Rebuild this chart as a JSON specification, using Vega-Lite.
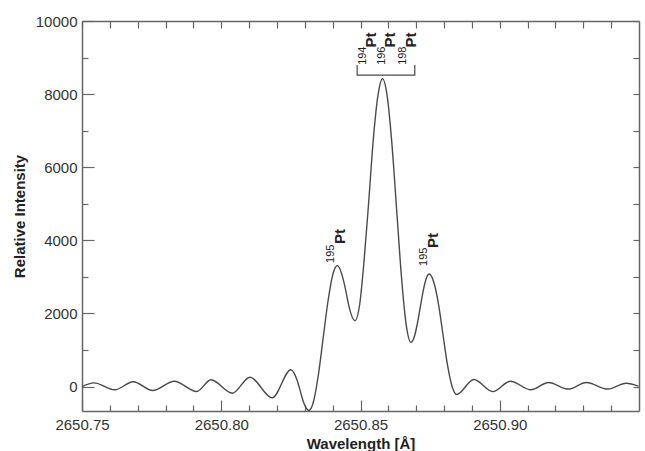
{
  "$schema": "https://vega.github.io/schema/vega-lite/v6.json",
  "width": 557,
  "height": 390,
  "autosize": "none",
  "padding": {"left": 82, "top": 21, "right": 6, "bottom": 40},
  "background": "white",
  "config": {
    "view": {"stroke": null},
    "axis": {
      "grid": false,
      "domainColor": "#666666",
      "domainWidth": 1.5,
      "tickColor": "#666666",
      "tickWidth": 1.2,
      "labelFont": "Liberation Sans",
      "titleFont": "Liberation Sans",
      "labelColor": "#333333",
      "titleColor": "#222222",
      "labelFontSize": 15,
      "titleFontSize": 15,
      "titleFontWeight": "bold"
    }
  },
  "datasets": {
    "curve": [
      {"lam": 2650.7500, "val": -5},
      {"lam": 2650.7543, "val": 100},
      {"lam": 2650.7618, "val": -90},
      {"lam": 2650.7684, "val": 130},
      {"lam": 2650.7754, "val": -110},
      {"lam": 2650.7831, "val": 145},
      {"lam": 2650.7912, "val": -137},
      {"lam": 2650.7963, "val": 183},
      {"lam": 2650.8040, "val": -183},
      {"lam": 2650.8103, "val": 255},
      {"lam": 2650.8183, "val": -310},
      {"lam": 2650.8250, "val": 457},
      {"lam": 2650.8272, "val": 179},
      {"lam": 2650.8283, "val": -99},
      {"lam": 2650.8293, "val": -377},
      {"lam": 2650.8315, "val": -655},
      {"lam": 2650.8332, "val": -389},
      {"lam": 2650.8349, "val": 336},
      {"lam": 2650.8366, "val": 1327},
      {"lam": 2650.8383, "val": 2319},
      {"lam": 2650.8400, "val": 3044},
      {"lam": 2650.8417, "val": 3310},
      {"lam": 2650.8438, "val": 2932},
      {"lam": 2650.8449, "val": 2555},
      {"lam": 2650.8459, "val": 2177},
      {"lam": 2650.8480, "val": 1800},
      {"lam": 2650.8497, "val": 2244},
      {"lam": 2650.8513, "val": 3455},
      {"lam": 2650.8530, "val": 5110},
      {"lam": 2650.8546, "val": 6765},
      {"lam": 2650.8563, "val": 7976},
      {"lam": 2650.8579, "val": 8420},
      {"lam": 2650.8596, "val": 7937},
      {"lam": 2650.8613, "val": 6617},
      {"lam": 2650.8630, "val": 4814},
      {"lam": 2650.8647, "val": 3011},
      {"lam": 2650.8664, "val": 1691},
      {"lam": 2650.8681, "val": 1208},
      {"lam": 2650.8692, "val": 1333},
      {"lam": 2650.8703, "val": 1676},
      {"lam": 2650.8714, "val": 2144},
      {"lam": 2650.8725, "val": 2612},
      {"lam": 2650.8736, "val": 2955},
      {"lam": 2650.8747, "val": 3080},
      {"lam": 2650.8763, "val": 2859},
      {"lam": 2650.8780, "val": 2255},
      {"lam": 2650.8796, "val": 1430},
      {"lam": 2650.8812, "val": 606},
      {"lam": 2650.8829, "val": 2},
      {"lam": 2650.8845, "val": -219},
      {"lam": 2650.8907, "val": 190},
      {"lam": 2650.8975, "val": -140},
      {"lam": 2650.9038, "val": 145},
      {"lam": 2650.9112, "val": -90},
      {"lam": 2650.9175, "val": 110},
      {"lam": 2650.9246, "val": -70},
      {"lam": 2650.9311, "val": 110},
      {"lam": 2650.9388, "val": -70},
      {"lam": 2650.9454, "val": 90},
      {"lam": 2650.9498, "val": 10}
    ],
    "bracket": [
      {"lam": 2650.8488, "val": 8795, "ord": 1},
      {"lam": 2650.8488, "val": 8517, "ord": 2},
      {"lam": 2650.8695, "val": 8517, "ord": 3},
      {"lam": 2650.8695, "val": 8795, "ord": 4}
    ],
    "pt": [
      {"lam": 2650.8425, "val": 3900, "txt": "Pt"},
      {"lam": 2650.8760, "val": 3791, "txt": "Pt"},
      {"lam": 2650.8537, "val": 9272, "txt": "Pt"},
      {"lam": 2650.8606, "val": 9272, "txt": "Pt"},
      {"lam": 2650.8681, "val": 9272, "txt": "Pt"}
    ],
    "iso": [
      {"lam": 2650.8393, "val": 3381, "txt": "195"},
      {"lam": 2650.8728, "val": 3300, "txt": "195"},
      {"lam": 2650.8509, "val": 8800, "txt": "194"},
      {"lam": 2650.8577, "val": 8800, "txt": "196"},
      {"lam": 2650.8652, "val": 8800, "txt": "198"}
    ]
  },
  "layer": [
    {
      "data": {"name": "curve"},
      "mark": {"type": "line", "interpolate": "monotone", "color": "#4a4a4a", "strokeWidth": 1.4, "clip": true},
      "encoding": {
        "x": {
          "field": "lam", "type": "quantitative",
          "scale": {"domain": [2650.75, 2650.95], "zero": false, "nice": false},
          "axis": {"orient": "bottom", "values": [2650.75, 2650.80, 2650.85, 2650.90], "format": ".2f", "ticks": false, "labelPadding": 6, "labelFlush": false, "title": "Wavelength [Å]", "titlePadding": 4}
        },
        "y": {
          "field": "val", "type": "quantitative",
          "scale": {"domain": [-670, 10000], "zero": false, "nice": false},
          "axis": {"orient": "left", "values": [0, 2000, 4000, 6000, 8000, 10000], "format": "d", "ticks": false, "labelPadding": 5, "title": "Relative Intensity", "titlePadding": 8}
        }
      }
    },
    {
      "data": {"name": "bracket"},
      "mark": {"type": "line", "color": "#4a4a4a", "strokeWidth": 1.2},
      "encoding": {
        "x": {"field": "lam", "type": "quantitative", "axis": {"orient": "bottom", "values": [2650.75, 2650.80, 2650.85, 2650.90], "tickSize": -11, "labels": false, "domain": false, "title": null}},
        "y": {"field": "val", "type": "quantitative", "axis": {"orient": "left", "values": [0, 2000, 4000, 6000, 8000, 10000], "tickSize": -12, "labels": false, "domain": false, "title": null}},
        "order": {"field": "ord", "type": "quantitative"}
      }
    },
    {
      "data": {"name": "pt"},
      "mark": {"type": "text", "angle": 270, "align": "left", "baseline": "middle", "font": "Liberation Sans", "fontWeight": "bold", "fontSize": 15, "color": "#222222"},
      "encoding": {
        "x": {"field": "lam", "type": "quantitative", "axis": {"orient": "bottom", "values": [2650.76, 2650.77, 2650.78, 2650.79, 2650.81, 2650.82, 2650.83, 2650.84, 2650.86, 2650.87, 2650.88, 2650.89, 2650.91, 2650.92, 2650.93, 2650.94], "tickSize": -6, "labels": false, "domain": false, "title": null}},
        "y": {"field": "val", "type": "quantitative", "axis": {"orient": "left", "values": [1000, 3000, 5000, 7000, 9000], "tickSize": -6, "labels": false, "domain": false, "title": null}},
        "text": {"field": "txt"}
      }
    },
    {
      "data": {"name": "iso"},
      "mark": {"type": "text", "angle": 270, "align": "left", "baseline": "middle", "font": "Liberation Sans", "fontSize": 11, "color": "#222222"},
      "encoding": {
        "x": {"field": "lam", "type": "quantitative", "axis": {"orient": "top", "values": [2650.75, 2650.76, 2650.77, 2650.78, 2650.79, 2650.80, 2650.81, 2650.82, 2650.83, 2650.84, 2650.85, 2650.86, 2650.87, 2650.88, 2650.89, 2650.90, 2650.91, 2650.92, 2650.93, 2650.94], "tickSize": -7, "labels": false, "domain": true, "title": null}},
        "y": {"field": "val", "type": "quantitative", "axis": {"orient": "right", "values": [0, 1000, 2000, 3000, 4000, 5000, 6000, 7000, 8000, 9000, 10000], "tickSize": -6, "labels": false, "domain": true, "title": null}},
        "text": {"field": "txt"}
      }
    }
  ],
  "resolve": {"axis": {"x": "independent", "y": "independent"}}
}
